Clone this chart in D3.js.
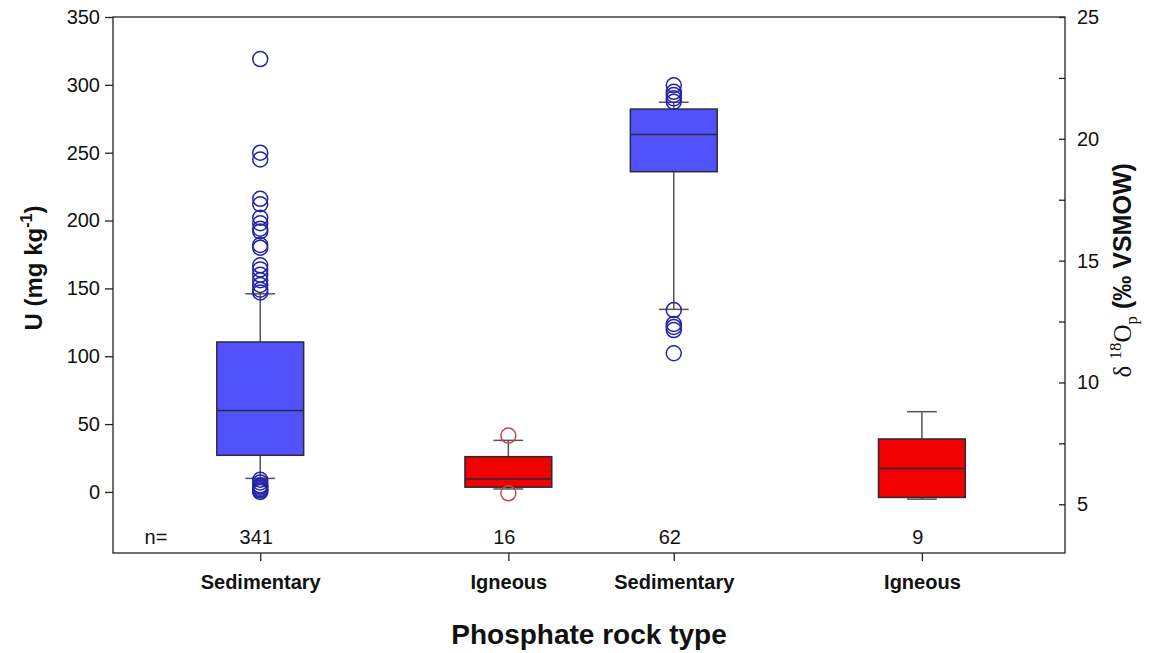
<!DOCTYPE html>
<html>
<head>
<meta charset="utf-8">
<script src="https://cdn.jsdelivr.net/npm/d3@7"></script>
<style>
  body { margin: 0; background: #fff; }
  svg text { font-family: "Liberation Sans", Arial, sans-serif; fill: #111; }
  .axis path, .axis line { stroke: #222; stroke-width: 1.3; }
  .axis text { font-size: 20px; }
</style>
</head>
<body>
<svg id="chart" width="1155" height="653"></svg>
<script>
// data
const categories = ["Sedimentary", "Igneous", "Sedimentary", "Igneous"];
const positions = [1, 2.5, 3.5, 5];
const axisSide = ["left", "left", "right", "right"];
const q1 = [27, 3.5, 18.65, 5.28];
const median = [60, 9.6, 20.18, 6.47];
const q3 = [110.5, 26, 21.22, 7.68];
const whiskerLow = [10, 2.2, 13.0, 5.21];
const whiskerHigh = [146, 38, 21.5, 8.8];
const counts = [341, 16, 62, 9];
const outliers = [
    [319, 250, 245, 216, 212, 202, 198, 194, 192, 182, 180, 167, 164, 160, 156, 152.5, 149, 147,
     9, 7, 5, 4, 3, 2, 1, 0],
    [41.5, -1],
    [22.2, 21.93, 21.8, 21.66, 21.52, 12.97, 12.4, 12.28, 12.15, 11.2],
    []
];
const fills = ["#5252fc", "#f00000", "#5252fc", "#f00000"];
const outlierColors = ["#2323a8", "#c04848", "#2323a8", "#c04848"];
const leftTicks = [0, 50, 100, 150, 200, 250, 300, 350];
const rightTicks = [5, 10, 15, 20, 25];
const rightMinor = [7.5, 12.5, 17.5, 22.5];

const svg = d3.select("svg#chart");
const margin = {top: 17, right: 90, bottom: 100, left: 113};
const width = 1155 - margin.left - margin.right;
const height = 653 - margin.top - margin.bottom;
const chart = svg.append('g')
    .attr('transform', `translate(${margin.left}, ${margin.top})`);

const xScale = d3.scaleLinear().domain([0.11, 5.865]).range([0, width]);
const yLeft = d3.scaleLinear().domain([-45, 350]).range([height, 0]);
const yRight = d3.scaleLinear().domain([3, 25]).range([height, 0]);
const boxW = xScale(0.525) - xScale(0);
const capW = xScale(0.18) - xScale(0);

// frame
chart.append('rect')
    .attr('width', width).attr('height', height)
    .attr('fill', 'none').attr('stroke', '#222').attr('stroke-width', 1.3);

// axes
chart.append('g').attr('class', 'axis')
    .call(d3.axisLeft(yLeft).tickValues(leftTicks).tickSize(8).tickPadding(5))
    .call(g => g.select('.domain').remove());

chart.append('g').attr('class', 'axis')
    .attr('transform', `translate(${width}, 0)`)
    .call(d3.axisRight(yRight).tickValues(rightTicks).tickSize(-6).tickPadding(12))
    .call(g => g.select('.domain').remove());

chart.append('g').attr('class', 'axis')
    .attr('transform', `translate(${width}, 0)`)
    .call(d3.axisRight(yRight).tickValues(rightMinor).tickSize(-6).tickFormat(''))
    .call(g => g.select('.domain').remove());

chart.append('g').attr('class', 'axis')
    .attr('transform', `translate(0, ${height})`)
    .call(d3.axisBottom(xScale).tickValues(positions).tickSize(8).tickPadding(14)
        .tickFormat((d, i) => categories[i]))
    .call(g => g.select('.domain').remove())
    .call(g => g.selectAll('text').style('font-weight', 'bold').style('font-size', '20px'));

// boxes
const boxes = chart.selectAll('g.box')
    .data(categories.map((c, i) => i))
    .enter()
    .append('g')
    .attr('class', 'box');

const yOf = i => axisSide[i] === 'left' ? yLeft : yRight;

boxes.append('line')
    .attr('x1', i => xScale(positions[i])).attr('x2', i => xScale(positions[i]))
    .attr('y1', i => yOf(i)(whiskerLow[i])).attr('y2', i => yOf(i)(whiskerHigh[i]))
    .attr('stroke', '#555').attr('stroke-width', 1.5);

[whiskerLow, whiskerHigh].forEach(w => {
    boxes.append('line')
        .attr('x1', i => xScale(positions[i]) - capW / 2)
        .attr('x2', i => xScale(positions[i]) + capW / 2)
        .attr('y1', i => yOf(i)(w[i])).attr('y2', i => yOf(i)(w[i]))
        .attr('stroke', '#555').attr('stroke-width', 1.5);
});

boxes.append('rect')
    .attr('x', i => xScale(positions[i]) - boxW / 2)
    .attr('y', i => yOf(i)(q3[i]))
    .attr('width', boxW)
    .attr('height', i => yOf(i)(q1[i]) - yOf(i)(q3[i]))
    .attr('fill', i => fills[i])
    .attr('stroke', '#2a2a3a').attr('stroke-width', 1.5);

boxes.append('line')
    .attr('x1', i => xScale(positions[i]) - boxW / 2)
    .attr('x2', i => xScale(positions[i]) + boxW / 2)
    .attr('y1', i => yOf(i)(median[i])).attr('y2', i => yOf(i)(median[i]))
    .attr('stroke', '#2a2a3a').attr('stroke-width', 1.5);

boxes.each(function (i) {
    d3.select(this).selectAll('circle')
        .data(outliers[i])
        .enter()
        .append('circle')
        .attr('cx', xScale(positions[i]))
        .attr('cy', d => yOf(i)(d))
        .attr('r', 7.5)
        .attr('fill', 'none')
        .attr('stroke', outlierColors[i])
        .attr('stroke-width', 1.5);
});

// n labels
chart.append('text')
    .attr('x', xScale(0.37)).attr('y', height - 9)
    .attr('text-anchor', 'middle').style('font-size', '20px')
    .text('n=');
chart.selectAll('text.count')
    .data(counts)
    .enter()
    .append('text')
    .attr('class', 'count')
    .attr('x', (d, i) => xScale(positions[i]) - 4)
    .attr('y', height - 9)
    .attr('text-anchor', 'middle').style('font-size', '20px')
    .text(d => d);

// axis titles
svg.append('text')
    .attr('transform', `translate(${margin.left / 2 - 15}, ${margin.top + yLeft(165)}) rotate(-90)`)
    .attr('text-anchor', 'middle')
    .style('font-size', '24px').style('font-weight', 'bold')
    .html('U (mg kg<tspan dy="-10" font-size="16">-1</tspan><tspan dy="10">)</tspan>');

svg.append('text')
    .attr('transform', `translate(${margin.left + width + 66}, ${margin.top + yRight(14.6)}) rotate(-90)`)
    .attr('text-anchor', 'middle')
    .style('font-size', '25px')
    .html('<tspan font-family="Liberation Serif, serif">δ </tspan>' +
          '<tspan font-family="Liberation Serif, serif" font-size="17" dy="-10">18</tspan>' +
          '<tspan font-family="Liberation Serif, serif" dy="10">O</tspan>' +
          '<tspan font-family="Liberation Serif, serif" font-size="17" dy="6">p</tspan>' +
          '<tspan dy="-6" font-weight="bold"> (‰ VSMOW)</tspan>');

svg.append('text')
    .attr('x', margin.left + width / 2)
    .attr('y', 644)
    .attr('text-anchor', 'middle')
    .style('font-size', '28px').style('font-weight', 'bold')
    .text('Phosphate rock type');
</script>
</body>
</html>
